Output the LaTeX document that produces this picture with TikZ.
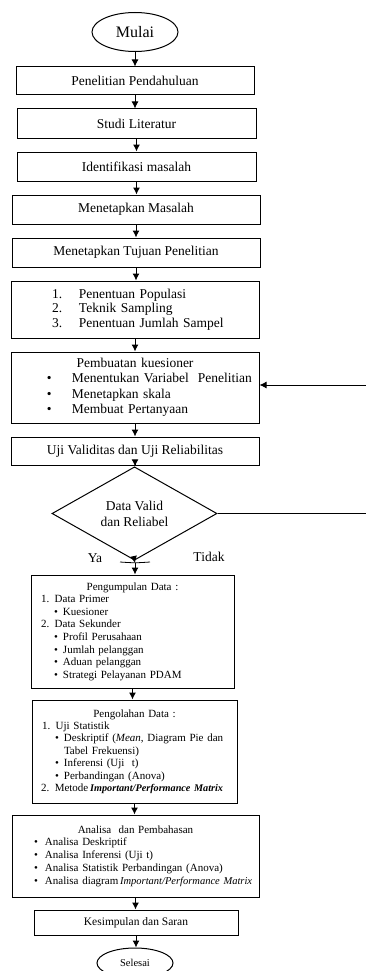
\documentclass[tikz,border=0pt]{standalone}
\usepackage{fontspec}
\setmainfont{Liberation Serif}
\usetikzlibrary{shapes.geometric,arrows.meta}
\setlength{\parindent}{0pt}
\newcommand{\butir}{\makebox[9pt][l]{\textbullet}}

\begin{document}
\begin{tikzpicture}[x=1pt,y=1pt,
  box/.style={draw=black,line width=1pt,inner sep=0pt,minimum height=29pt,
    font=\fontsize{13.5}{16}\selectfont},
  listbox/.style={box,align=left},
  oval/.style={draw=black,line width=1pt,ellipse,inner sep=0pt},
  arw/.style={line width=1pt,-{Latex[length=7pt,width=7pt]}}]
\useasboundingbox (0,0) rectangle (365,-971);
% start and plain steps:
\node[oval,minimum width=86,minimum height=39,font=\fontsize{16}{18}\selectfont] (mulai) at (135,-32) {Mulai};
\node[box,minimum width=238,minimum height=28] (pendahuluan) at (135,-81) {Penelitian Pendahuluan};
\node[box,minimum width=239] (literatur) at (136.5,-123.5) {Studi Literatur};
\node[box,minimum width=239] (identifikasi) at (136.5,-166.5) {Identifikasi masalah};
\node[box,minimum width=248] (masalah) at (136,-209.5) {Menetapkan Masalah};
\node[box,minimum width=248] (tujuan) at (136,-252.5) {Menetapkan Tujuan Penelitian};
% lists:
\node[listbox,text width=248,minimum height=57,font=\fontsize{13.5}{14.5}\selectfont] (sampel) at (135,-309.5)
  {\hspace*{41pt}\makebox[27pt][l]{1.}Penentuan Populasi\\
   \hspace*{41pt}\makebox[27pt][l]{2.}Teknik Sampling\\
   \hspace*{41pt}\makebox[27pt][l]{3.}Penentuan Jumlah Sampel};
\node[listbox,text width=248,minimum height=71,font=\fontsize{13.5}{15.5}\selectfont] (kuesioner) at (135,-387.5)
  {\makebox[\hsize]{Pembuatan kuesioner}\\
   \hspace*{36pt}\makebox[25pt][l]{\textbullet}Menentukan Variabel\ \ Penelitian\\
   \hspace*{36pt}\makebox[25pt][l]{\textbullet}Menetapkan skala\\
   \hspace*{36pt}\makebox[25pt][l]{\textbullet}Membuat Pertanyaan};
\node[box,minimum width=248,minimum height=28] (ujivalid) at (135,-451) {Uji Validitas dan Uji Reliabilitas};
\node[draw=black,line width=1pt,diamond,inner sep=0pt,minimum width=165,minimum height=71,
  align=center,font=\fontsize{13.5}{16}\selectfont] (cek) at (134.5,-513.5) {Data Valid\\dan Reliabel};
\node[font=\fontsize{13.5}{16}\selectfont] (ya) at (95,-558) {Ya};
\node[font=\fontsize{13.5}{16}\selectfont] (tidak) at (209,-557) {Tidak};
\coordinate (sambung) at (135,-563);
\coordinate (balik) at (372,-513.5);
\node[listbox,text width=203,minimum height=113,font=\fontsize{11}{12.6}\selectfont] (kumpul) at (132.5,-631.5)
  {\makebox[\hsize]{Pengumpulan Data :}\\
   \hspace*{10pt}1. Data Primer\\
   \hspace*{23pt}\butir Kuesioner\\
   \hspace*{10pt}2. Data Sekunder\\
   \hspace*{23pt}\butir Profil Perusahaan\\
   \hspace*{23pt}\butir Jumlah pelanggan\\
   \hspace*{23pt}\butir Aduan pelanggan\\
   \hspace*{23pt}\butir Strategi Pelayanan PDAM};
\node[listbox,text width=205,minimum height=103,font=\fontsize{11}{12.4}\selectfont] (olah) at (134.5,-751.5)
  {\makebox[\hsize]{Pengolahan Data :}\\
   \hspace*{10pt}1. Uji Statistik\\
   \hspace*{23pt}\butir Deskriptif (\textit{Mean}, Diagram Pie dan\\
   \hspace*{32pt}Tabel Frekuensi)\\
   \hspace*{23pt}\butir Inferensi (Uji\ \ t)\\
   \hspace*{23pt}\butir Perbandingan (Anova)\\
   \hspace*{9pt}\mbox{2. Metode\,{\fontsize{10.2}{12.4}\selectfont\textbf{\textit{Important/Performance Matrix}}}}};
\node[listbox,text width=247,minimum height=82,font=\fontsize{11}{12.8}\selectfont] (analisa) at (135.5,-856)
  {\makebox[\hsize]{Analisa\ \ dan Pembahasan}\\
   \hspace*{22pt}\makebox[11pt][l]{\textbullet}Analisa Deskriptif\\
   \hspace*{22pt}\makebox[11pt][l]{\textbullet}Analisa Inferensi (Uji t)\\
   \hspace*{22pt}\makebox[11pt][l]{\textbullet}Analisa Statistik Perbandingan (Anova)\\
   \hspace*{22pt}\makebox[11pt][l]{\textbullet}\mbox{Analisa diagram\,{\fontsize{10.5}{12.8}\selectfont\textit{Important/Performance Matrix}}}};
\node[box,minimum width=204,minimum height=25,font=\fontsize{11.5}{14}\selectfont] (simpulan) at (136,-922.5) {Kesimpulan dan Saran};
\node[oval,minimum width=76,minimum height=30,font=\fontsize{10.5}{12}\selectfont] (selesai) at (135,-963) {Selesai};
% connectors:
\foreach \a/\b in {mulai/pendahuluan,pendahuluan/literatur,literatur/identifikasi,
  identifikasi/masalah,masalah/tujuan,tujuan/sampel,sampel/kuesioner,kuesioner/ujivalid,
  ujivalid/cek,kumpul/olah,olah/analisa,analisa/simpulan,simpulan/selesai}
  \draw[arw] (\a.south) -- (\a.south |- \b.north);
\draw[arw] (cek.south) -- (sambung);
\draw[line width=0.8pt] ([xshift=-15pt,yshift=1pt]sambung) .. controls (sambung) .. ([xshift=15pt,yshift=1pt]sambung);
\draw[arw] (sambung) -- (sambung |- kumpul.north);
\draw[arw] (cek.east) -- (balik) |- ([yshift=2.5pt]kuesioner.east);
\end{tikzpicture}
\end{document}
